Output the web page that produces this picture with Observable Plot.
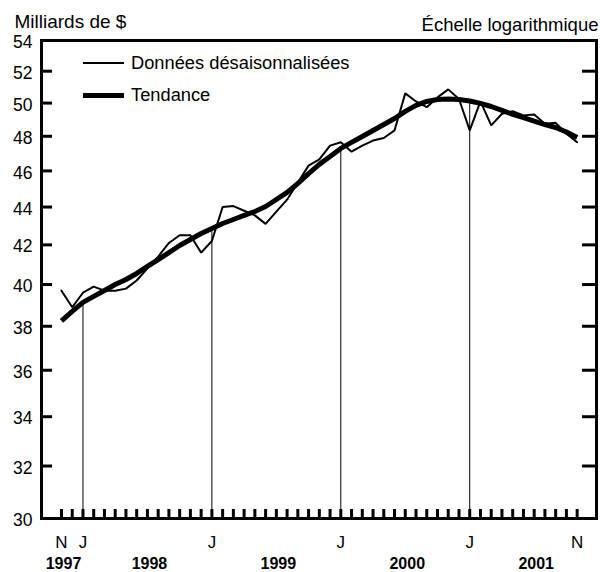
<!DOCTYPE html>
<html>
<head>
<meta charset="utf-8">
<script src="https://cdn.jsdelivr.net/npm/d3@7"></script>
<script src="https://cdn.jsdelivr.net/npm/@observablehq/plot@0.6"></script>
<style>
  body { margin: 0; background: #fff; }
  #wrap { position: relative; width: 600px; height: 572px; font-family: "Liberation Sans", Arial, sans-serif; color: #000; }
  #legend { position: absolute; left: 0; top: 0; font-size: 18.3px; }
  #legend .row { position: absolute; display: flex; align-items: center; white-space: nowrap; }
  #legend .sw { display: inline-block; background: #000; }
</style>
</head>
<body>
<div id="wrap"></div>
<script>
// Months (Nov 1997 – Nov 2001)
const months = [
  "1997-11","1997-12",
  "1998-01","1998-02","1998-03","1998-04","1998-05","1998-06","1998-07","1998-08","1998-09","1998-10","1998-11","1998-12",
  "1999-01","1999-02","1999-03","1999-04","1999-05","1999-06","1999-07","1999-08","1999-09","1999-10","1999-11","1999-12",
  "2000-01","2000-02","2000-03","2000-04","2000-05","2000-06","2000-07","2000-08","2000-09","2000-10","2000-11","2000-12",
  "2001-01","2001-02","2001-03","2001-04","2001-05","2001-06","2001-07","2001-08","2001-09","2001-10","2001-11"
];
// Données désaisonnalisées (milliards de $)
const desaisonnalisees = [
  39.7, 38.9,
  39.6, 39.9, 39.7, 39.7, 39.8, 40.2, 40.8, 41.4, 42.1, 42.5, 42.5, 41.6,
  42.2, 44.0, 44.05, 43.8, 43.55, 43.1, 43.75, 44.4, 45.35, 46.3, 46.65, 47.45,
  47.65, 47.1, 47.45, 47.75, 47.9, 48.35, 50.6, 50.1, 49.75, 50.35, 50.85, 50.25,
  48.35, 50.1, 48.65, 49.35, 49.5, 49.25, 49.3, 48.75, 48.8, 48.15, 47.65
];
// Tendance
const tendance = [
  38.25, 38.7,
  39.13, 39.42, 39.71, 40.0, 40.25, 40.55, 40.9, 41.25, 41.6, 41.97, 42.28, 42.59,
  42.85, 43.12, 43.33, 43.55, 43.76, 44.03, 44.41, 44.8, 45.29, 45.85, 46.37, 46.82,
  47.29, 47.64, 47.99, 48.34, 48.7, 49.06, 49.49, 49.86, 50.1, 50.22, 50.25, 50.22,
  50.13, 49.98, 49.79, 49.55, 49.31, 49.12, 48.91, 48.7, 48.52, 48.25, 47.93
];
const yTicks = [30, 32, 34, 36, 38, 40, 42, 44, 46, 48, 50, 52, 54];
const monthTickLabels = ["N", "J", "J", "J", "J", "N"];
const monthTickAt = ["1997-11", "1998-01", "1999-01", "2000-01", "2001-01", "2001-11"];
const yearLabels = ["1997", "1998", "1999", "2000", "2001"];
const yearLabelAt = ["1997-11", "1998-07", "1999-07", "2000-07", "2001-07"];
const seriesNames = ["Données désaisonnalisées", "Tendance"];
const yTitle = "Milliards de $";
const scaleNote = "Échelle logarithmique";

// month index: Nov 1997 = 0
const monthIndex = s => { const [y, m] = s.split("-").map(Number); return (y - 1997) * 12 + (m - 11); };
const data = months.map((m, k) => ({i: monthIndex(m), month: m, raw: desaisonnalisees[k], trend: tendance[k]}));
const janData = data.filter(d => d.month.endsWith("-01"));
const monthLabels = monthTickLabels.map((t, k) => ({i: monthIndex(monthTickAt[k]), label: t}));
const yearData = yearLabels.map((t, k) => ({i: monthIndex(yearLabelAt[k]), label: t}));

const W = 600, H = 572, mL = 41, mR = 4, mT = 40, mB = 54;
const plotW = W - mL - mR, plotH = H - mT - mB;

const chart = Plot.plot({
  width: W, height: H,
  marginLeft: mL, marginRight: mR, marginTop: mT, marginBottom: mB,
  style: {fontFamily: '"Liberation Sans", Arial, sans-serif', fontSize: "16px", color: "#000", background: "#fff", overflow: "visible"},
  x: {type: "linear", domain: [-1.86, 49.8], axis: null},
  y: {type: "log", domain: [30, 54], axis: null},
  marks: [
    // inward ticks left / right
    Plot.ruleY(yTicks, {insetRight: plotW - 11, strokeWidth: 3, stroke: "#000"}),
    Plot.ruleY(yTicks, {insetLeft: plotW - 14, strokeWidth: 3, stroke: "#000"}),
    // monthly ticks at bottom
    Plot.ruleX(data, {x: "i", insetTop: plotH - 9, strokeWidth: 3, stroke: "#000"}),
    // January drop lines
    Plot.ruleX(janData, {x: "i", y1: 30, y2: "trend", stroke: "#000", strokeWidth: 1}),
    Plot.line(data, {x: "i", y: "raw", stroke: "#000", strokeWidth: 2, strokeLinejoin: "miter"}),
    Plot.line(data, {x: "i", y: "trend", stroke: "#000", strokeWidth: 5, strokeLinecap: "butt"}),
    Plot.frame({stroke: "#000", strokeWidth: 3}),
    Plot.axisY(yTicks, {tickSize: 0, tickPadding: 9, fontSize: 17.5, dy: 2}),
    Plot.text(monthLabels, {x: "i", text: "label", frameAnchor: "bottom", lineAnchor: "bottom", dy: 29, fontSize: 17}),
    Plot.text(yearData, {x: "i", text: "label", frameAnchor: "bottom", lineAnchor: "bottom", dy: 50, dx: 2, fontSize: 16, fontWeight: "bold"}),
    Plot.text([yTitle], {frameAnchor: "top-left", textAnchor: "start", lineAnchor: "bottom", dx: -27, dy: -13, fontSize: 19}),
    Plot.text([scaleNote], {frameAnchor: "top-right", textAnchor: "end", lineAnchor: "bottom", dx: 2, dy: -10, fontSize: 18.5})
  ]
});

const wrap = document.getElementById("wrap");
wrap.appendChild(chart);

const legend = document.createElement("div");
legend.id = "legend";
legend.innerHTML = `
  <div class="row" style="left:83px; top:52px; height:22px;">
    <span class="sw" style="width:41px; height:2px;"></span>
    <span style="margin-left:7px;">${seriesNames[0]}</span>
  </div>
  <div class="row" style="left:83px; top:84px; height:22px;">
    <span class="sw" style="width:41px; height:5px;"></span>
    <span style="margin-left:7px;">${seriesNames[1]}</span>
  </div>`;
wrap.appendChild(legend);
</script>
</body>
</html>
